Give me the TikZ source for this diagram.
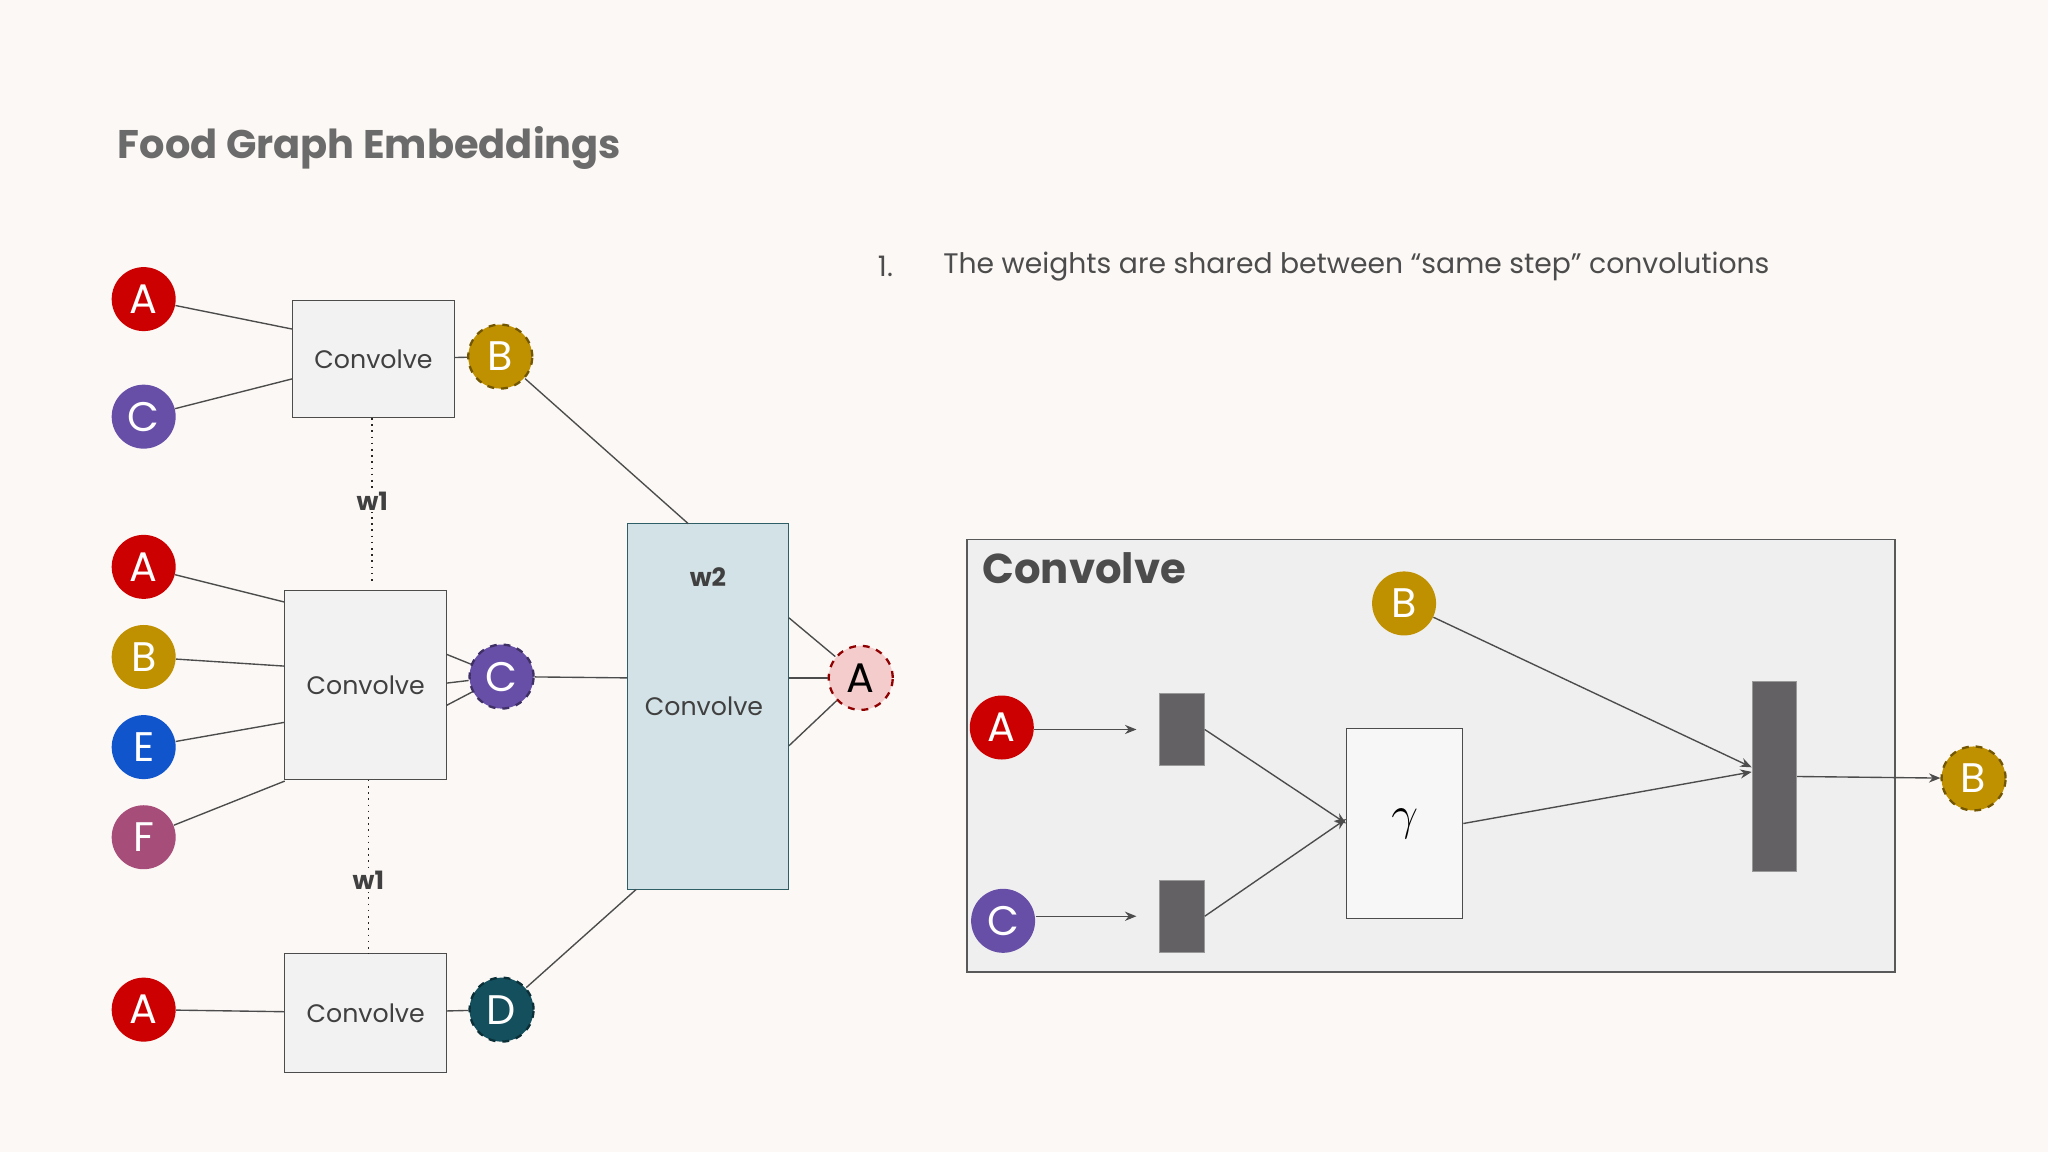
\documentclass[tikz,border=0pt]{standalone}
\usepackage{fontspec}
\setmainfont{Poppins}
\usetikzlibrary{arrows.meta}
\usetikzlibrary{positioning}

\definecolor{paper}{HTML}{FCF8F5}
\definecolor{titlegray}{HTML}{6B6B6B}
\definecolor{cred}{HTML}{CC0000}
\definecolor{cpurple}{HTML}{674EA7}
\definecolor{cgold}{HTML}{BF9000}
\definecolor{cblue}{HTML}{1155CC}
\definecolor{cmagenta}{HTML}{A64D79}
\definecolor{cteal}{HTML}{134F5C}
\definecolor{cpink}{HTML}{F4CCCC}
\definecolor{wbox}{HTML}{D3E2E6}
\definecolor{wedge}{HTML}{2E5E66}
\definecolor{panel}{HTML}{F0EFF0}
\definecolor{bar}{HTML}{636163}

\tikzset{
  food/.style={circle, minimum size=0.98cm, inner sep=0pt, text=white, font=\fontsize{18}{18}\selectfont},
  out/.style={food, draw=#1!60!black, dashed, line width=1pt},
  conv/.style={draw=black!70, fill=black!5, minimum width=2.48cm, font=\fontsize{11}{11}\selectfont, text=black!75},
  bar/.style={fill=bar, draw=black!40, minimum width=0.68cm},
  link/.style={draw=black!70, line width=0.6pt},
  flow/.style={link, -{Stealth[length=5pt,width=4pt]}},
  wlabel/.style={fill=paper, inner sep=1pt, text=black!75, font=\fontsize{11}{11}\selectfont\bfseries},
}

\begin{document}
\begin{tikzpicture}[x=0.02cm, y=-0.02cm]

\fill[paper] (0,0) rectangle (1568,882);
\useasboundingbox (0,0) rectangle (1568,882);

\node[anchor=west, text=titlegray, font=\fontsize{17.4}{18}\selectfont\bfseries] (title) at (84,113) {Food Graph Embeddings};
\node[anchor=west, text=black!70, font=\fontsize{12.3}{13}\selectfont] (num) at (666,204) {1.};
\node[anchor=west, text=black!70, font=\fontsize{12.3}{13}\selectfont] (note) at (716,204) {The weights are shared between “same step” convolutions};

% left: first layer
\node[conv, minimum height=1.8cm] (cv1) at (286,275) {Convolve};
\node[conv, minimum height=2.9cm] (cv2) at (280,524.5) {Convolve};
\node[conv, minimum height=1.82cm] (cv3) at (280,775.5) {Convolve};

\node[food, fill=cred] (a1) at (110,229) {A};
\node[food, fill=cpurple] (c1) at (110,319) {C};
\node[food, fill=cred] (a2) at (110,434) {A};
\node[food, fill=cgold] (b2) at (110,503) {B};
\node[food, fill=cblue] (e2) at (110,572) {E};
\node[food, fill=cmagenta] (f2) at (110,641) {F};
\node[food, fill=cred] (a3) at (110,773) {A};

\node[out=cgold, fill=cgold] (bo) at (383,273) {B};
\node[out=cpurple, fill=cpurple] (co) at (384,518) {C};
\node[out=cteal, fill=cteal] (do) at (384,773) {D};

\draw[link] (a1) -- (224,252);
\draw[link] (c1) -- (224,290);
\draw[link] (a2) -- (218,461);
\draw[link] (b2) -- (218,510);
\draw[link] (e2) -- (218,553);
\draw[link] (f2) -- (218,598);
\draw[link] (a3) -- (cv3);
\draw[link] (cv1) -- (bo);
\draw[link] (342,501) -- (co);
\draw[link] (342,523) -- (co);
\draw[link] (342,540) -- (co);
\draw[link] (cv3) -- (do);

% shared weights
\draw[dotted, black!85, line width=0.7pt] (285,320) -- node[wlabel, pos=0.5] {w1} (285,447);
\draw[dotted, black!85, line width=0.7pt] (282,597) -- node[wlabel, pos=0.58] {w1} (282,730);

% second layer
\node[draw=wedge, fill=wbox, minimum width=2.48cm, minimum height=5.6cm] (cw) at (542,541) {};
\node[text=black!75, font=\fontsize{11}{11}\selectfont\bfseries] (w2) at (542,442) {w2};
\node[text=black!75, font=\fontsize{11}{11}\selectfont] at (539,541) {Convolve};
\node[out=cred, fill=cpink, text=black, draw=cred!70!black] (ao) at (659,519) {A};

\draw[link] (bo) -- (527,401);
\draw[link] (co) -- (480,519);
\draw[link] (do) -- (487,681);
\draw[link] (604,473) -- (ao);
\draw[link] (604,519) -- (ao);
\draw[link] (604,571) -- (ao);

% right: inside a convolution
\node[draw=black!65, fill=panel, line width=0.8pt, minimum width=14.22cm, minimum height=6.62cm] (pan) at (1095.5,578.5) {};
\node[anchor=west, text=black!70, font=\fontsize{18.2}{19}\selectfont\bfseries] at (746,435) {Convolve};

\node[food, fill=cgold] (bi) at (1075,462) {B};
\node[food, fill=cred] (ai) at (767,557) {A};
\node[food, fill=cpurple] (ci) at (768,705) {C};
\node[bar, minimum height=1.1cm] (r1) at (905,558.5) {};
\node[bar, minimum height=1.1cm] (r2) at (905,701.5) {};
\node[draw=black!70, fill=black!3, minimum width=1.78cm, minimum height=2.9cm, font=\fontsize{20}{20}\selectfont] (gam) at (1075.5,630.5) {$\gamma$};
\node[bar, minimum height=2.9cm] (r3) at (1358.5,594.5) {};
\node[out=cgold, fill=cgold] (bf) at (1511,596) {B};

\draw[flow] (ai.east |- r1.west) -- ([xshift=-10]r1.west);
\draw[flow] (ci.east |- r2.west) -- ([xshift=-10]r2.west);
\draw[flow] (r1.east) -- ([yshift=0]gam.west);
\draw[flow] (r2.east) -- ([yshift=2]gam.west);
\draw[flow] (gam.east) -- ([yshift=2]r3.west);
\draw[flow] (bi) -- ([yshift=4]r3.west);
\draw[flow] (r3.east) -- (bf);

\end{tikzpicture}
\end{document}
